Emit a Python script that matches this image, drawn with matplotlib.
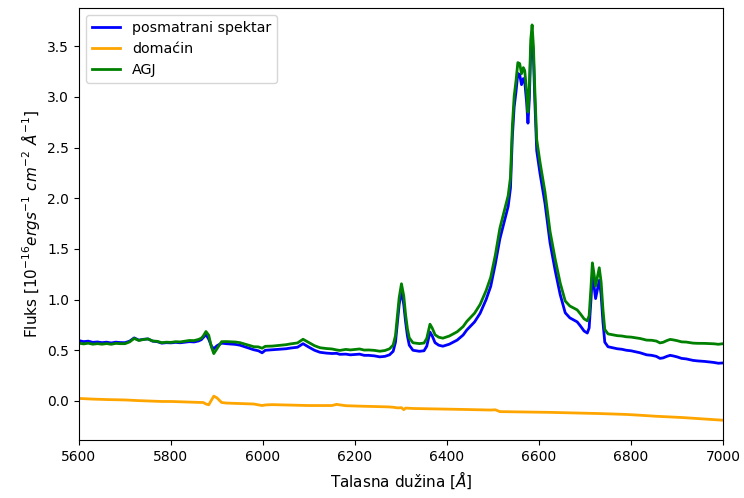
import numpy as np
import matplotlib
matplotlib.use("Agg")
import matplotlib.pyplot as plt

# Observed spectrum: wavelength [A] and flux [1e-16 erg/s/cm2/A]
obs_wave = [5600, 5610, 5620, 5630, 5640, 5650, 5660, 5670, 5680, 5690, 5700, 5710, 5720,
            5730, 5740, 5750, 5760, 5770, 5780, 5790, 5800, 5810, 5820, 5830, 5840, 5850,
            5860, 5866, 5870, 5876, 5882, 5888, 5893, 5900, 5910, 5920, 5930, 5940, 5950,
            5960, 5970, 5980, 5990, 5998, 6005, 6020, 6030, 6040, 6050, 6060, 6075, 6087,
            6100, 6112, 6124, 6138, 6150, 6160, 6167, 6180, 6190, 6200, 6210, 6220, 6230,
            6242, 6254, 6265, 6275, 6283, 6288, 6292, 6296, 6301, 6306, 6310, 6314, 6318,
            6326, 6340, 6350, 6356, 6360, 6363, 6368, 6374, 6382, 6391, 6405, 6422, 6435,
            6443, 6460, 6472, 6485, 6495, 6505, 6515, 6525, 6533, 6538, 6542, 6546, 6550,
            6554, 6558, 6562, 6566, 6569, 6573, 6576, 6579, 6582, 6585, 6588, 6591, 6595,
            6602, 6613, 6624, 6635, 6646, 6657, 6667, 6675, 6683, 6690, 6698, 6705, 6709,
            6713, 6716, 6720, 6723, 6727, 6731, 6735, 6739, 6743, 6750, 6760, 6770, 6780,
            6790, 6800, 6810, 6820, 6834, 6845, 6855, 6863, 6870, 6878, 6885, 6891, 6900,
            6910, 6920, 6935, 6945, 6960, 6970, 6980, 6990, 7000]
obs_flux = [0.595, 0.585, 0.590, 0.578, 0.582, 0.575, 0.580, 0.572, 0.580, 0.576, 0.575, 0.590, 0.622,
            0.600, 0.608, 0.612, 0.590, 0.585, 0.570, 0.575, 0.573, 0.578, 0.574, 0.580, 0.585, 0.582,
            0.592, 0.605, 0.625, 0.655, 0.610, 0.540, 0.515, 0.545, 0.570, 0.565, 0.562, 0.558, 0.550,
            0.535, 0.520, 0.505, 0.495, 0.475, 0.500, 0.505, 0.508, 0.512, 0.515, 0.522, 0.530, 0.565,
            0.530, 0.500, 0.480, 0.472, 0.468, 0.470, 0.460, 0.462, 0.455, 0.458, 0.462, 0.450, 0.450,
            0.445, 0.435, 0.440, 0.455, 0.490, 0.580, 0.760, 0.950, 1.090, 0.950, 0.780, 0.640, 0.550,
            0.500, 0.490, 0.495, 0.540, 0.620, 0.680, 0.640, 0.575, 0.550, 0.540, 0.560, 0.600, 0.650,
            0.700, 0.780, 0.865, 1.000, 1.130, 1.350, 1.600, 1.780, 1.920, 2.100, 2.600, 2.900, 3.050,
            3.230, 3.220, 3.120, 3.180, 3.150, 2.950, 2.740, 2.980, 3.450, 3.600, 3.380, 2.950, 2.470,
            2.250, 1.950, 1.560, 1.290, 1.050, 0.870, 0.820, 0.800, 0.780, 0.740, 0.690, 0.670, 0.720,
            1.000, 1.240, 1.120, 1.010, 1.100, 1.190, 1.050, 0.780, 0.580, 0.535, 0.525, 0.515, 0.510,
            0.500, 0.495, 0.485, 0.475, 0.455, 0.450, 0.440, 0.420, 0.425, 0.440, 0.450, 0.445, 0.435,
            0.420, 0.415, 0.400, 0.395, 0.390, 0.385, 0.380, 0.372, 0.375]

# Host galaxy template
host_wave = [5600, 5620, 5650, 5680, 5700, 5720, 5750, 5780, 5800, 5830, 5860, 5870, 5876,
             5880, 5885, 5890, 5895, 5900, 5905, 5915, 5950, 5980, 5998, 6010, 6050, 6100,
             6150, 6163, 6170, 6200, 6250, 6280, 6295, 6300, 6305, 6310, 6330, 6400, 6450,
             6500, 6504, 6513, 6600, 6700, 6776, 6800, 6850, 6900, 6950, 7000]
host_flux = [0.025, 0.020, 0.015, 0.012, 0.010, 0.005, 0.000, -0.005, -0.005, -0.010, -0.015, -0.015, -0.030,
             -0.050, -0.020, 0.030, 0.060, 0.030, -0.010, -0.020, -0.025, -0.030, -0.045, -0.035, -0.040, -0.045,
             -0.045, -0.030, -0.045, -0.050, -0.055, -0.060, -0.070, -0.060, -0.090, -0.070, -0.075, -0.080, -0.085,
             -0.090, -0.085, -0.105, -0.110, -0.120, -0.130, -0.135, -0.150, -0.160, -0.175, -0.190]

wave = np.asarray(obs_wave, dtype=float)
observed = np.asarray(obs_flux)
host = np.interp(wave, host_wave, host_flux)
# AGN component = observed spectrum minus host template
agn = observed - host

fig = plt.figure(figsize=(7.44, 4.98), dpi=100)
ax = fig.add_axes([79 / 744, 1 - 440 / 498, (723 - 79) / 744, (440 - 8) / 498])

ax.plot(wave, observed, color="blue", lw=2.0, label="posmatrani spektar")
ax.plot(wave, host, color="orange", lw=2.0, label="domaćin")
ax.plot(wave, agn, color="green", lw=2.0, label="AGJ")

ax.set_xlim(5600, 7000)
ax.set_ylim(-0.385, 3.876)
ax.set_xticks([5600, 5800, 6000, 6200, 6400, 6600, 6800, 7000])
ax.set_yticks([0.0, 0.5, 1.0, 1.5, 2.0, 2.5, 3.0, 3.5])
ax.tick_params(labelsize=10)

ax.set_xlabel(r"Talasna dužina [$\AA$]", fontsize=11)
ax.set_ylabel(r"Fluks [$10^{-16} ergs^{-1}\ cm^{-2}\ \AA^{-1}$]", fontsize=11)
ax.legend(loc="upper left", fontsize=10.3)

fig.savefig("out.png", dpi=100)
